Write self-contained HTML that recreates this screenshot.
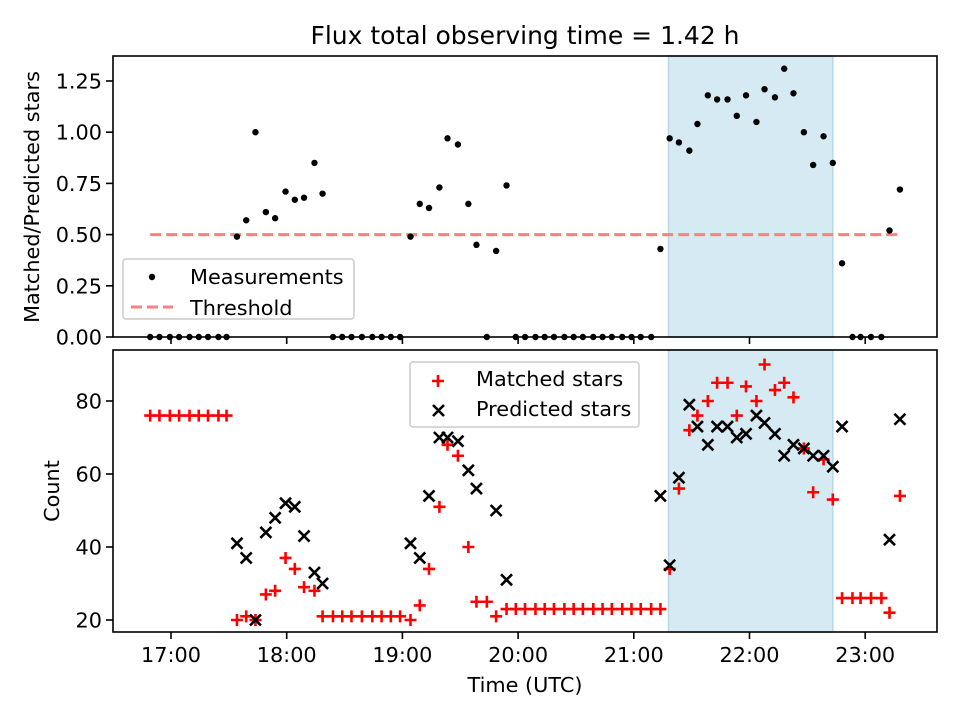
<!DOCTYPE html>
<html><head><meta charset="utf-8"><style>
html,body{margin:0;padding:0;background:#fff}
svg{display:block;font-family:"DejaVu Sans","Liberation Sans",sans-serif}
</style></head><body>
<svg id="fig" width="960" height="720" viewBox="0 0 960 720" xmlns="http://www.w3.org/2000/svg"></svg>
<script>
const times=[16.82,16.90,16.99,17.07,17.16,17.24,17.32,17.41,17.48,
17.57,17.65,17.73,17.82,17.90,17.99,18.07,18.15,18.24,18.31,
18.40,18.48,18.56,18.65,18.74,18.82,18.90,18.98,
19.07,19.15,19.23,19.32,19.39,19.48,19.57,19.64,19.73,19.81,19.90,
19.98,20.06,20.15,20.23,20.31,20.40,20.48,20.56,20.65,20.73,20.81,20.90,20.98,21.06,21.15,
21.23,21.31,21.39,21.48,21.55,21.64,21.72,21.81,21.89,21.97,22.06,22.13,22.22,22.30,22.38,22.47,22.55,22.64,22.72,22.80,22.89,22.96,23.05,23.14,23.21,23.30];
const ratio=[0,0,0,0,0,0,0,0,0,
.49,.57,1.00,.61,.58,.71,.67,.68,.85,.70,
0,0,0,0,0,0,0,0,
.49,.65,.63,.73,.97,.94,.65,.45,0,.42,.74,
0,0,0,0,0,0,0,0,0,0,0,0,0,0,0,
.43,.97,.95,.91,1.04,1.18,1.16,1.16,1.08,1.18,1.05,1.21,1.17,1.31,1.19,1.00,.84,.98,.85,.36,0,0,0,0,.52,.72];
const matched=[76,76,76,76,76,76,76,76,76,
20,21,20,27,28,37,34,29,28,21,
21,21,21,21,21,21,21,21,
20,24,34,51,68,65,40,25,25,21,23,
23,23,23,23,23,23,23,23,23,23,23,23,23,23,23,
23,34,56,72,76,80,85,85,76,84,80,90,83,85,81,67,55,64,53,26,26,26,26,26,22,54];
const predicted=[null,null,null,null,null,null,null,null,null,
41,37,20,44,48,52,51,43,33,30,
null,null,null,null,null,null,null,null,
41,37,54,70,70,69,61,56,null,50,31,
null,null,null,null,null,null,null,null,null,null,null,null,null,null,null,
54,35,59,79,73,68,73,73,70,71,76,74,71,65,68,67,65,65,62,73,null,null,null,null,42,75];
const threshold=0.5;
const spanStart=21.30, spanEnd=22.72;
const xTicks=[17,18,19,20,21,22,23];
const xTickLabels=["17:00","18:00","19:00","20:00","21:00","22:00","23:00"];
const topTicks=[0,0.25,0.5,0.75,1.0,1.25];
const topTickLabels=["0.00","0.25","0.50","0.75","1.00","1.25"];
const botTicks=[20,40,60,80];
const botTickLabels=["20","40","60","80"];

const NS="http://www.w3.org/2000/svg";
const svg=document.getElementById('fig');
function mk(tag,attrs,parent){const e=document.createElementNS(NS,tag);for(const k in attrs)e.setAttribute(k,attrs[k]);(parent||svg).appendChild(e);return e;}
const L=113,R=937;
const xs=h=>171+(h-17)*115.7;
const T1=56,B1=337, T2=350,B2=632;
const y1=v=>337-v*204.8;
const y2=v=>620-(v-20)*3.65;
const FS=20.8;

for(const [t,b] of [[T1,B1],[T2,B2]]){
  const s=mk('rect',{x:xs(spanStart),y:t,width:xs(spanEnd)-xs(spanStart),height:b-t,fill:'#d5eaf2',stroke:'#b4d8e6','stroke-width':1.5});
  
  
}
const th=mk('line',{x1:xs(times[0]),x2:xs(times[times.length-1]),y1:y1(threshold),y2:y1(threshold),stroke:'#ff7f7f','stroke-width':3,'stroke-dasharray':'11,5'});


times.forEach((t,i)=>{
  const c=mk('circle',{cx:xs(t),cy:y1(ratio[i]),r:3.2,fill:'#000'});
  
  
});
times.forEach((t,i)=>{
  const x=xs(t),y=y2(matched[i]);
  const g=mk('path',{d:`M${x-6},${y}H${x+6}M${x},${y-6}V${y+6}`,stroke:'#f00','stroke-width':2.6});
  
  
});
times.forEach((t,i)=>{
  if(predicted[i]===null)return;
  const x=xs(t),y=y2(predicted[i]);
  const g=mk('path',{d:`M${x-5.5},${y-5.5}L${x+5.5},${y+5.5}M${x-5.5},${y+5.5}L${x+5.5},${y-5.5}`,stroke:'#000','stroke-width':2.6});
  
  
});
function frame(t,b,name){
  const r=mk('rect',{x:L,y:t,width:R-L,height:b-t,fill:'none',stroke:'#000','stroke-width':1.6});
  
  
  xTicks.forEach(h=>mk('line',{x1:xs(h),x2:xs(h),y1:b,y2:b+7,stroke:'#000','stroke-width':1.6}));
}
frame(T1,B1,'top-axes-frame');frame(T2,B2,'bottom-axes-frame');
xTicks.forEach((h,i)=>{
  const tx=mk('text',{x:xs(h),y:B2+30,'text-anchor':'middle','font-size':FS});
  tx.textContent=xTickLabels[i];
  
  
});
topTicks.forEach((v,i)=>{
  mk('line',{x1:L-7,x2:L,y1:y1(v),y2:y1(v),stroke:'#000','stroke-width':1.6});
  const tx=mk('text',{x:L-11,y:y1(v)+7.5,'text-anchor':'end','font-size':FS});
  tx.textContent=topTickLabels[i];
  
  
});
botTicks.forEach((v,i)=>{
  mk('line',{x1:L-7,x2:L,y1:y2(v),y2:y2(v),stroke:'#000','stroke-width':1.6});
  const tx=mk('text',{x:L-11,y:y2(v)+7.5,'text-anchor':'end','font-size':FS});
  tx.textContent=botTickLabels[i];
  
  
});
</script>
<svg style="position:absolute;left:0;top:0" width="960" height="720" xmlns="http://www.w3.org/2000/svg" font-family="DejaVu Sans, Liberation Sans, sans-serif">
<text x="525" y="44" text-anchor="middle" font-size="25">Flux total observing time = 1.42 h</text>
<text transform="translate(39,197) rotate(-90)" text-anchor="middle" font-size="20.8">Matched/Predicted stars</text>
<text transform="translate(59,491) rotate(-90)" text-anchor="middle" font-size="20.8">Count</text>
<text x="525" y="692" text-anchor="middle" font-size="20.8">Time (UTC)</text>
<g>
<rect x="123" y="259" width="231" height="60" rx="3" fill="#fff" fill-opacity="0.8" stroke="#ccc" stroke-width="1.5"/>
<circle cx="152" cy="277" r="3.2" fill="#000"/>
<text x="190" y="284" font-size="20.8">Measurements</text>
<line x1="131" x2="173" y1="307" y2="307" stroke="#ff7f7f" stroke-width="3" stroke-dasharray="11,5"/>
<text x="190" y="315" font-size="20.8">Threshold</text>
</g>
<g>
<rect x="410" y="362" width="229" height="65" rx="3" fill="#fff" fill-opacity="0.8" stroke="#ccc" stroke-width="1.5"/>
<path d="M432,381H444M438,375V387" stroke="#f00" stroke-width="2.6"/>
<text x="476" y="386" font-size="20.8">Matched stars</text>
<path d="M433,405L444,416M433,416L444,405" stroke="#000" stroke-width="2.6"/>
<text x="476" y="416" font-size="20.8">Predicted stars</text>
</g>
</svg>
</body></html>
